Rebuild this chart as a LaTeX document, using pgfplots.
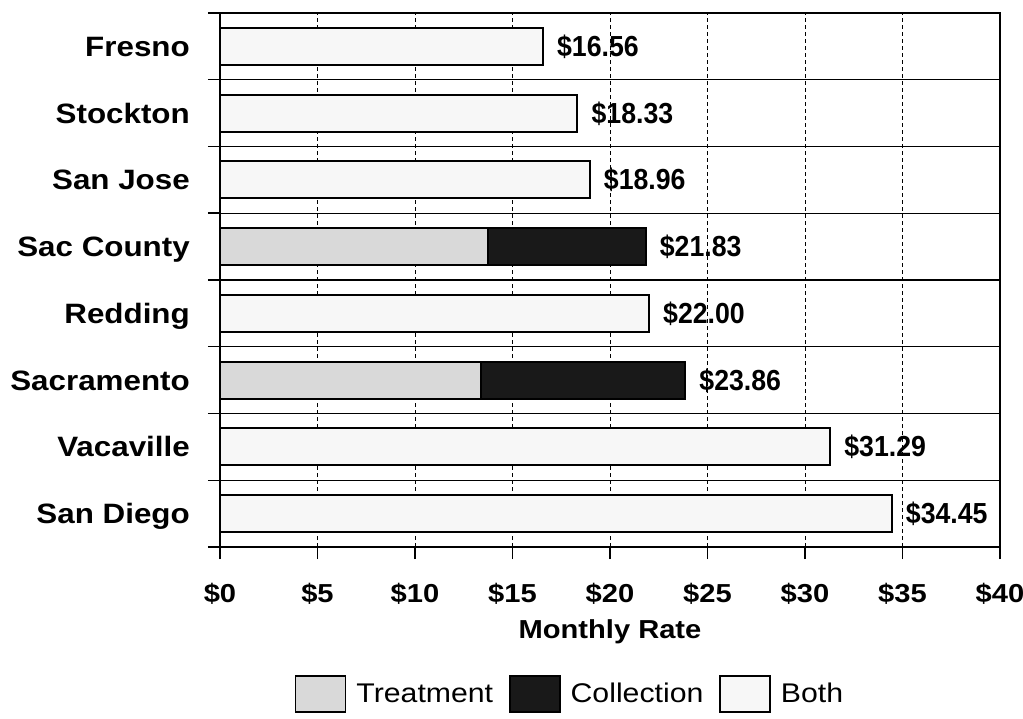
\documentclass[border=0pt]{standalone}
\usepackage{fontspec}
\setmainfont[FakeStretch=1.12]{Liberation Sans}
\newfontfamily\narrowfont[FakeStretch=0.92]{Liberation Sans}
\usepackage{pgfplots}
\pgfplotsset{compat=1.18}
\definecolor{treat}{gray}{0.85}
\definecolor{coll}{gray}{0.10}
\definecolor{both}{gray}{0.97}
\begin{document}
\begin{tikzpicture}[x=1pt,y=1pt]
\useasboundingbox (0,0) rectangle (1023,718);
\begin{axis}[
  at={(220pt,171pt)}, anchor=south west,
  scale only axis, width=780pt, height=534pt,
  xmin=0, xmax=40, ymin=-0.5, ymax=7.5,
  clip=false,
  axis line style={line width=1.5pt, black},
  tick pos=left,
  tick align=outside, major tick length=12pt,
  tick style={line width=1.5pt, black},
  xtick={0,5,...,40},
  xticklabels={\$0,\$5,\$10,\$15,\$20,\$25,\$30,\$35,\$40},
  xticklabel style={font=\fontsize{26}{32}\selectfont\bfseries, anchor=base, inner sep=0pt, yshift=-43pt},
  ytick={-0.5,0.5,...,7.5},
  yticklabels={},
  yticklabel style={font=\fontsize{28}{34}\selectfont\bfseries, anchor=base east, inner sep=0pt, xshift=-30pt, yshift=-10pt},
  extra y ticks={0,1,2,3,4,5,6,7},
  extra y tick labels={San Diego,Vacaville,Sacramento,Redding,Sac County,San Jose,Stockton,Fresno},
  extra y tick style={grid=none, major tick length=0pt},
  xmajorgrids, ymajorgrids,
  x grid style={black, line width=1pt, dash pattern=on 4pt off 3pt},
  y grid style={black, line width=1.2pt},
  xlabel={Monthly Rate},
  xlabel style={font=\fontsize{26}{32}\selectfont\bfseries, at={(axis description cs:0.5,0)}, anchor=base, inner sep=0pt, yshift=-91pt},
  legend columns=-1,
  legend style={draw=none, fill=none, at={(axis description cs:0.092,-0.275)}, anchor=west,
    font=\fontsize{27}{33}\selectfont,
    /tikz/every odd column/.append style={column sep=8pt},
    /tikz/every even column/.append style={column sep=14pt}},
  legend image code/.code={\draw[#1, line width=1.5pt] (0pt,-18pt) rectangle (50pt,18pt);},
]
\addplot[xbar, bar width=37pt, bar shift=0pt, stack plots=x, draw=black, line width=2pt, fill=treat]
  coordinates {(0,0) (0,1) (13.40,2) (0,3) (13.75,4) (0,5) (0,6) (0,7)};
\addplot[xbar, bar width=37pt, bar shift=0pt, stack plots=x, draw=black, line width=2pt, fill=coll]
  coordinates {(0,0) (0,1) (10.46,2) (0,3) (8.08,4) (0,5) (0,6) (0,7)};
\addplot[xbar, bar width=37pt, bar shift=0pt, stack plots=x, draw=black, line width=2pt, fill=both]
  coordinates {(34.45,0) (31.29,1) (0,2) (22.00,3) (0,4) (18.96,5) (18.33,6) (16.56,7)};
\addplot[stack plots=false, sharp plot, draw=none, mark=none, forget plot,
  point meta=explicit symbolic,
  nodes near coords={\$\pgfplotspointmeta},
  nodes near coords style={font=\fontsize{29}{34}\narrowfont\bfseries, anchor=base west, inner sep=0pt, xshift=14pt, yshift=-10pt, black}]
  coordinates {(34.45,0) [34.45] (31.29,1) [31.29] (23.86,2) [23.86] (22.00,3) [22.00] (21.83,4) [21.83] (18.96,5) [18.96] (18.33,6) [18.33] (16.56,7) [16.56]};
\legend{Treatment,Collection,Both}
\end{axis}
\end{tikzpicture}
\end{document}
